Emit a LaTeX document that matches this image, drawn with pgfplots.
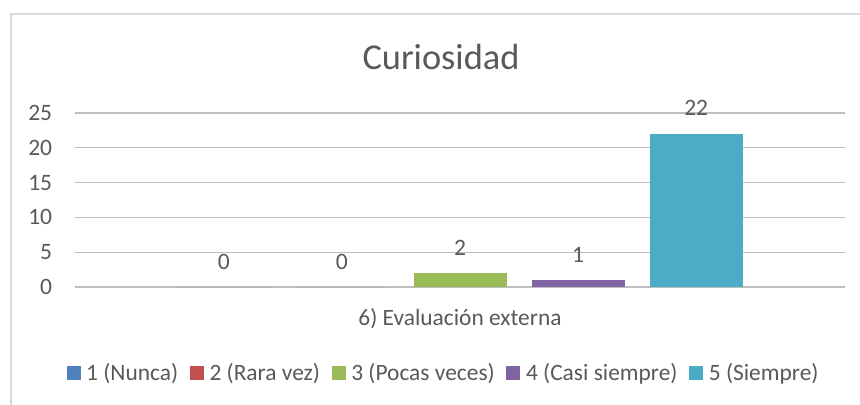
\documentclass[border=0pt]{standalone}
\usepackage{fontspec}
\setmainfont{Carlito}
\usepackage{pgfplots}
\pgfplotsset{compat=1.18}
\definecolor{txt}{HTML}{595959}
\definecolor{grid}{HTML}{D9D9D9}
\definecolor{c1}{HTML}{4F81BD}
\definecolor{c2}{HTML}{C0504D}
\definecolor{c3}{HTML}{9BBB59}
\definecolor{c4}{HTML}{8064A2}
\definecolor{c5}{HTML}{4BACC6}
\pgfplotsset{sq/.style={legend image code/.code={\fill[##1] (0bp,-7bp) rectangle (14bp,7bp);}}}
\begin{document}
\begin{tikzpicture}
\useasboundingbox (-75bp,-118bp) rectangle (785bp,287bp);
\draw[grid, line width=1.3bp] (-64bp,-130bp) -- (-64bp,273bp) -- (800bp,273bp);
\begin{axis}[
  scale only axis,
  width=770bp, height=174bp,
  xmin=-0.26, xmax=6.26,
  ymin=0, ymax=25,
  ytick={0,5,...,25},
  xtick=\empty,
  axis line style={draw=none},
  major tick length=0pt,
  ymajorgrids,
  grid style={grid, line width=1.1bp},
  /pgf/number format/assume math mode=true,
  yticklabel style={font=\fontsize{23.6}{27}\selectfont, text=txt, anchor=east, inner sep=0pt, xshift=-22.7bp},
  ybar, bar width=93bp,
  nodes near coords,
  every node near coord/.append style={font=\fontsize{23.6}{27}\selectfont, text=txt, anchor=base, inner sep=0pt, yshift=18bp},
  legend columns=5,
  legend style={draw=none, inner sep=0pt, at={(0.4773,-0.4925)}, anchor=center,
    font=\fontsize{23.5}{27}\selectfont, text=txt,
    nodes={inner sep=0pt},
    /tikz/every odd column/.append style={column sep=5.7bp},
    /tikz/every even column/.append style={column sep=11.6bp}},
]
\addplot[fill=c1, draw=none, bar shift=0pt, sq] coordinates {(1,0)};
\addplot[fill=c2, draw=none, bar shift=0pt, sq] coordinates {(2,0)};
\addplot[fill=c3, draw=none, bar shift=0pt, sq] coordinates {(3,2)};
\addplot[fill=c4, draw=none, bar shift=0pt, sq] coordinates {(4,1)};
\addplot[fill=c5, draw=none, bar shift=0pt, sq] coordinates {(5,22)};
\legend{1 (Nunca),2 (Rara vez),3 (Pocas veces),4 (Casi siempre),5 (Siempre)}
\end{axis}
\node[font=\fontsize{36.5}{40}\selectfont, text=txt, anchor=base] at (366bp,217bp) {Curiosidad};
\node[font=\fontsize{23.5}{27}\selectfont, text=txt, anchor=base] at (385bp,-38bp) {6) Evaluación externa};
\end{tikzpicture}
\end{document}
